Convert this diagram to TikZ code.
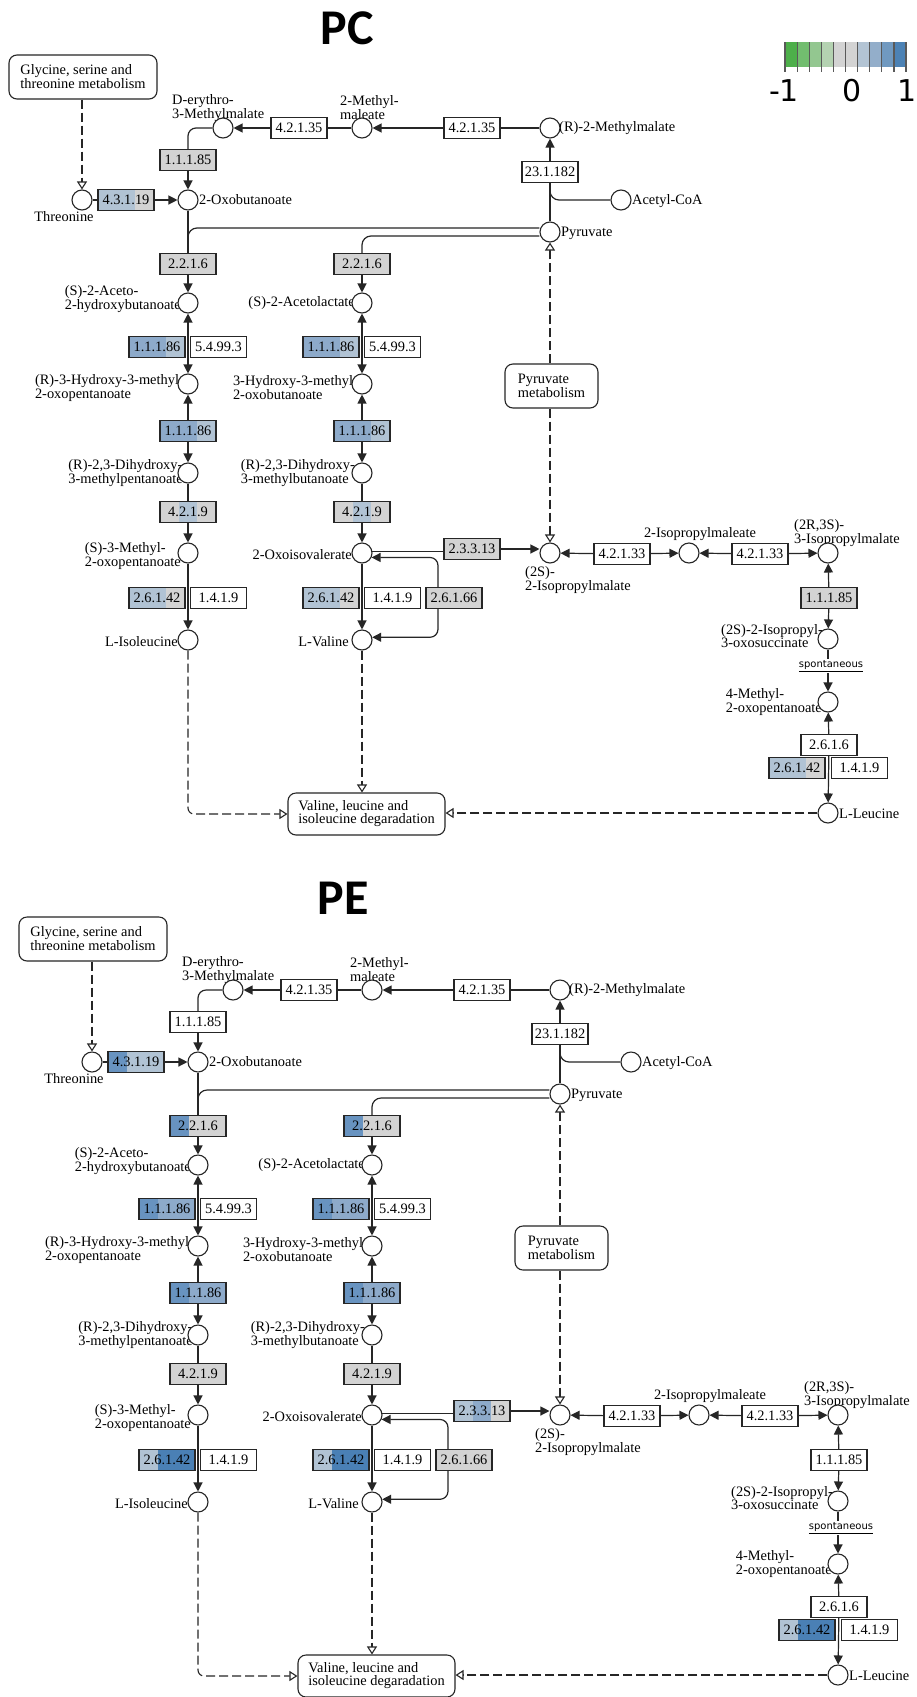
\documentclass[tikz,border=0pt]{standalone}
\usepackage{fontspec}
\setmainfont{Liberation Serif}
\newfontfamily\dejavu{DejaVu Sans}
\newfontfamily\carlito{Carlito}
\usetikzlibrary{arrows.meta,calc}
\pgfdeclarelayer{bottom}
\pgfdeclarelayer{background}
\pgfsetlayers{bottom,background,main}

\definecolor{gr}{HTML}{D3D3D3}
\definecolor{cA}{HTML}{B1C3D4}
\definecolor{cB}{HTML}{8DAACA}
\definecolor{cC}{HTML}{6893C0}
\definecolor{cD}{HTML}{4A80B5}
\definecolor{ln}{HTML}{262626}
\definecolor{gA}{HTML}{4DAF4A}
\definecolor{gB}{HTML}{72BD6F}
\definecolor{gC}{HTML}{93C790}
\definecolor{gD}{HTML}{B4D2B1}
\definecolor{bA}{HTML}{B3C4D4}
\definecolor{bB}{HTML}{93AECA}
\definecolor{bC}{HTML}{7099C0}
\definecolor{bD}{HTML}{4C82B5}

\tikzset{
 cpd/.style={circle, draw=ln, fill=white, line width=1.1pt, minimum size=20pt, inner sep=0pt},
 enz/.style={rectangle, draw=ln, fill=white, line width=1.1pt, minimum width=56pt, minimum height=21pt, inner sep=0pt, font=\fontsize{14.4}{14}\selectfont},
 pmap/.style={rectangle, rounded corners=8pt, draw=ln, fill=white, line width=1.1pt, inner sep=0pt, align=left, font=\fontsize{14.4}{13}\selectfont},
 lbl/.style={inner sep=0pt, align=left, font=\fontsize{14.4}{12.5}\selectfont},
 rxn/.style={draw=ln, line width=1.2pt},
 arr/.style={rxn, -{Triangle[length=9pt,width=9pt]}},
 barr/.style={rxn, {Triangle[length=9pt,width=9pt]}-{Triangle[length=9pt,width=9pt]}},
 rel/.style={draw=ln, line width=1.1pt, dash pattern=on 9pt off 4pt, -{Triangle[open,length=8pt,width=10pt,fill=white]}},
 tri/.style n args={3}{path picture={
   \fill[#1] (path picture bounding box.south west) rectangle ++(18.667pt,21pt);
   \fill[#2] ([xshift=18.667pt]path picture bounding box.south west) rectangle ++(18.667pt,21pt);
   \fill[#3] ([xshift=37.333pt]path picture bounding box.south west) rectangle ++(18.667pt,21pt);
 }},
 titlef/.style={font=\carlito\bfseries\fontsize{50}{50}\selectfont, inner sep=0pt},
 barlbl/.style={font=\dejavu\fontsize{30}{30}\selectfont, inner sep=0pt},
}

\newcommand\keggpanel{%
 % labels
 \node[lbl] (lthr) at (64,217) {Threonine};
 \node[lbl, anchor=west] (loxob) at (199,200) {2-Oxobutanoate};
 \node[lbl, anchor=west] (ldery) at (172,108) {D-erythro-\\3-Methylmalate};
 \node[lbl, anchor=west] (lmmal) at (340,108) {2-Methyl-\\maleate};
 \node[lbl, anchor=west] (lrmm) at (559,128) {(R)-2-Methylmalate};
 \node[lbl, anchor=west] (lacoa) at (632,201) {Acetyl-CoA};
 \node[lbl, anchor=west] (lpyr) at (561,233) {Pyruvate};
 \node[lbl, anchor=east] (lahb) at (181,299) {(S)-2-Aceto-\\2-hydroxybutanoate};
 \node[lbl, anchor=east] (lalac) at (355,303) {(S)-2-Acetolactate};
 \node[lbl, anchor=east] (lhmo) at (184,388) {(R)-3-Hydroxy-3-methyl-\\2-oxopentanoate};
 \node[lbl, anchor=east] (lhmb) at (358,388) {3-Hydroxy-3-methyl-\\2-oxobutanoate};
 \node[lbl, anchor=east] (ldhp) at (183,473) {(R)-2,3-Dihydroxy-\\3-methylpentanoate};
 \node[lbl, anchor=east] (ldhb) at (355,473) {(R)-2,3-Dihydroxy-\\3-methylbutanoate};
 \node[lbl, anchor=east] (lmop) at (181,556) {(S)-3-Methyl-\\2-oxopentanoate};
 \node[lbl, anchor=east] (loiv) at (352,555) {2-Oxoisovalerate};
 \node[lbl, anchor=east] (lile) at (178,642) {L-Isoleucine};
 \node[lbl, anchor=east] (lval) at (349,642) {L-Valine};
 \node[lbl, anchor=west] (lipm) at (525,580) {(2S)-\\2-Isopropylmalate};
 \node[lbl] (lipme) at (700,534) {2-Isopropylmaleate};
 \node[lbl, anchor=west] (lipm3) at (794,533) {(2R,3S)-\\3-Isopropylmalate};
 \node[lbl, anchor=east] (lios) at (823,636) {(2S)-2-Isopropyl-\\3-oxosuccinate};
 \node[lbl, anchor=east] (lmop4) at (822,702) {4-Methyl-\\2-oxopentanoate};
 \node[lbl, anchor=west] (lleu) at (839,814) {L-Leucine};
 % compounds
 \node[cpd] (thr) at (82,200) {};
 \node[cpd] (oxob) at (188,200) {};
 \node[cpd] (dery) at (223,128) {};
 \node[cpd] (mmal) at (362,128) {};
 \node[cpd] (rmm) at (550,128) {};
 \node[cpd] (acoa) at (621,200) {};
 \node[cpd] (pyr) at (550,232) {};
 \node[cpd] (ahb) at (188,303) {};
 \node[cpd] (hmo) at (188,384) {};
 \node[cpd] (dhp) at (188,473) {};
 \node[cpd] (mop) at (188,553) {};
 \node[cpd] (ile) at (188,640) {};
 \node[cpd] (alac) at (362,303) {};
 \node[cpd] (hmb) at (362,384) {};
 \node[cpd] (dhb) at (362,473) {};
 \node[cpd] (oiv) at (362,553) {};
 \node[cpd] (val) at (362,640) {};
 \node[cpd] (ipm) at (550,553) {};
 \node[cpd] (ipme) at (689,553) {};
 \node[cpd] (ipm3) at (828,553) {};
 \node[cpd] (ios) at (828,639) {};
 \node[cpd] (mop4) at (828,702) {};
 \node[cpd] (leu) at (828,813) {};
 % enzymes
 \node[enz,k4319] (e4319) at (126,200) {4.3.1.19};
 \node[enz,k11185a] (e11185a) at (188,160) {1.1.1.85};
 \node[enz] (e42135a) at (299,128) {4.2.1.35};
 \node[enz] (e42135b) at (472,128) {4.2.1.35};
 \node[enz] (e231182) at (550,172) {23.1.182};
 \node[enz,k2216] (e2216a) at (188,264) {2.2.1.6};
 \node[enz,k2216] (e2216b) at (362,264) {2.2.1.6};
 \node[enz,k11186] (e11186a) at (157,347) {1.1.1.86};
 \node[enz] (e54993a) at (218.5,347) {5.4.99.3};
 \node[enz,k11186] (e11186b) at (188,431) {1.1.1.86};
 \node[enz,k4219] (e4219a) at (188,512) {4.2.1.9};
 \node[enz,k11186] (e11186c) at (331,347) {1.1.1.86};
 \node[enz] (e54993b) at (392.5,347) {5.4.99.3};
 \node[enz,k11186] (e11186d) at (362,431) {1.1.1.86};
 \node[enz,k4219] (e4219b) at (362,512) {4.2.1.9};
 \node[enz,k26142] (e26142a) at (157,598) {2.6.1.42};
 \node[enz] (e1419a) at (218.5,598) {1.4.1.9};
 \node[enz,k26142] (e26142b) at (331,598) {2.6.1.42};
 \node[enz] (e1419b) at (392.5,598) {1.4.1.9};
 \node[enz,k26166] (e26166) at (454,598) {2.6.1.66};
 \node[enz,k23313] (e23313) at (472,549) {2.3.3.13};
 \node[enz] (e42133a) at (622,554) {4.2.1.33};
 \node[enz] (e42133b) at (760,554) {4.2.1.33};
 \node[enz,k11185b] (e11185b) at (829,598) {1.1.1.85};
 \node[enz] (e2616) at (829,745) {2.6.1.6};
 \node[enz,k26142] (e26142c) at (797,768) {2.6.1.42};
 \node[enz] (e1419c) at (859.5,768) {1.4.1.9};
 % maps
 \node[pmap, minimum width=148pt, minimum height=44pt] (glymap) at (83,77) {Glycine, serine and\\threonine metabolism};
 \node[pmap, minimum width=93pt, minimum height=44pt] (pyrmap) at (551.5,386) {Pyruvate\\metabolism};
 \node[pmap, minimum width=157pt, minimum height=42pt] (degmap) at (366.5,814) {Valine, leucine and\\isoleucine degaradation};
 \node[font=\dejavu\fontsize{10}{11}\selectfont, fill=white, inner sep=1pt] (spon) at (831,666) {\underline{spontaneous}};
 % connectors
 \begin{pgfonlayer}{background}
 \draw[rel] (glymap.south -| thr) -- (thr);
 \draw[rxn] (thr) -- (e4319);
 \draw[arr] (e4319) -- (oxob);
 \draw[rxn, rounded corners=8pt] (dery.west) -| (e11185a.north);
 \draw[arr] (e11185a) -- (oxob);
 \draw[arr] (e42135a) -- (dery);
 \draw[rxn] (mmal) -- (e42135a);
 \draw[arr] (e42135b) -- (mmal);
 \draw[rxn] (rmm) -- (e42135b);
 \draw[arr] (e231182) -- (rmm);
 \draw[rxn] (pyr) -- (e231182);
 \draw[rxn, rounded corners=9pt] (acoa.west) -| (e231182.south);
 \draw[rxn] (oxob) -- (e2216a);
 \draw[rxn, rounded corners=9pt] ([yshift=4pt]pyr.west) -| (e2216a.north);
 \draw[rxn, rounded corners=9pt] ([yshift=-4pt]pyr.west) -| (e2216b.north);
 \draw[arr] (e2216a) -- (ahb);
 \draw[arr] (e2216b) -- (alac);
 \draw[barr] (ahb) -- (hmo);
 \draw[barr] (hmo) -- (dhp);
 \draw[arr] (dhp) -- (mop);
 \draw[arr] (mop) -- (ile);
 \draw[barr] (alac) -- (hmb);
 \draw[barr] (hmb) -- (dhb);
 \draw[arr] (dhb) -- (oiv);
 \draw[arr] (oiv) -- (val);
 \draw[barr, rounded corners=8pt] (oiv.-25) -| ([xshift=-16pt]e26166.center) |- (val.15);
 \draw[rxn] (oiv.10) -- (oiv.10 -| e23313.west);
 \draw[arr] (e23313.east) -- (e23313.east -| ipm.west);
 \draw[arr] (e42133a) -- (ipm);
 \draw[arr] (e42133a) -- (ipme);
 \draw[arr] (e42133b) -- (ipme);
 \draw[arr] (e42133b) -- (ipm3);
 \draw[arr] (e11185b) -- (ipm3);
 \draw[arr] (e11185b) -- (ios);
 \draw[arr] (ios) -- (mop4);
 \draw[arr] (e2616) -- (mop4);
 \draw[arr] (e2616) -- (leu);
 \draw[rel] (leu.west) -- (leu.west -| degmap.east);
 \draw[rel, rounded corners=6pt] (ile.south) |- (degmap.west);
 \draw[rel] (val.south) -- (val.south |- degmap.north);
 \draw[rel] (pyrmap.north -| pyr) -- (pyr.south);
 \draw[rel] (pyrmap.south -| ipm) -- (ipm.north);
 \end{pgfonlayer}
}

\begin{document}
\begin{tikzpicture}[x=1pt,y=-1pt]
\begin{pgfonlayer}{bottom}
\fill[white] (0,0) rectangle (917,1697);
\end{pgfonlayer}
\useasboundingbox (0,0) rectangle (917,1697);
% titles
\node[titlef] (tPC) at (347,28) {PC};
\node[titlef] (tPE) at (343,898) {PE};
% colour key
\foreach \c [count=\i from 0] in {gA,gB,gC,gD,gr,gr,bA,bB,bC,bD} {
  \fill[\c] (785+12.1*\i,42) rectangle ++(12.1,25);
}
\foreach \i in {0,...,10} {
  \draw[black!65, line width=1.2pt] (785+12.1*\i,42) -- ++(0,30);
}
\node[barlbl] (km) at (784,91) {-1};
\node[barlbl] (kz) at (852,91) {0};
\node[barlbl] (kp) at (907,91) {1};
% PC panel
\tikzset{
 k4319/.style={tri={cA}{cA}{gr}},
 k11185a/.style={fill=gr},
 k2216/.style={fill=gr},
 k11186/.style={tri={cB}{cB}{cA}},
 k4219/.style={tri={gr}{cA}{gr}},
 k26142/.style={tri={cA}{cA}{gr}},
 k26166/.style={fill=gr},
 k23313/.style={fill=gr},
 k11185b/.style={fill=gr},
}
\begin{scope}
\keggpanel
\end{scope}
% PE panel
\tikzset{
 k4319/.style={tri={cC}{cA}{cA}},
 k11185a/.style={fill=white},
 k2216/.style={tri={cC}{gr}{gr}},
 k11186/.style={tri={cC}{cB}{cB}},
 k4219/.style={fill=gr},
 k26142/.style={tri={cA}{cD}{cD}},
 k26166/.style={fill=gr},
 k23313/.style={tri={cA}{cB}{gr}},
 k11185b/.style={fill=white},
}
\begin{scope}[shift={(10,862)}]
\keggpanel
\end{scope}
\end{tikzpicture}
\end{document}
